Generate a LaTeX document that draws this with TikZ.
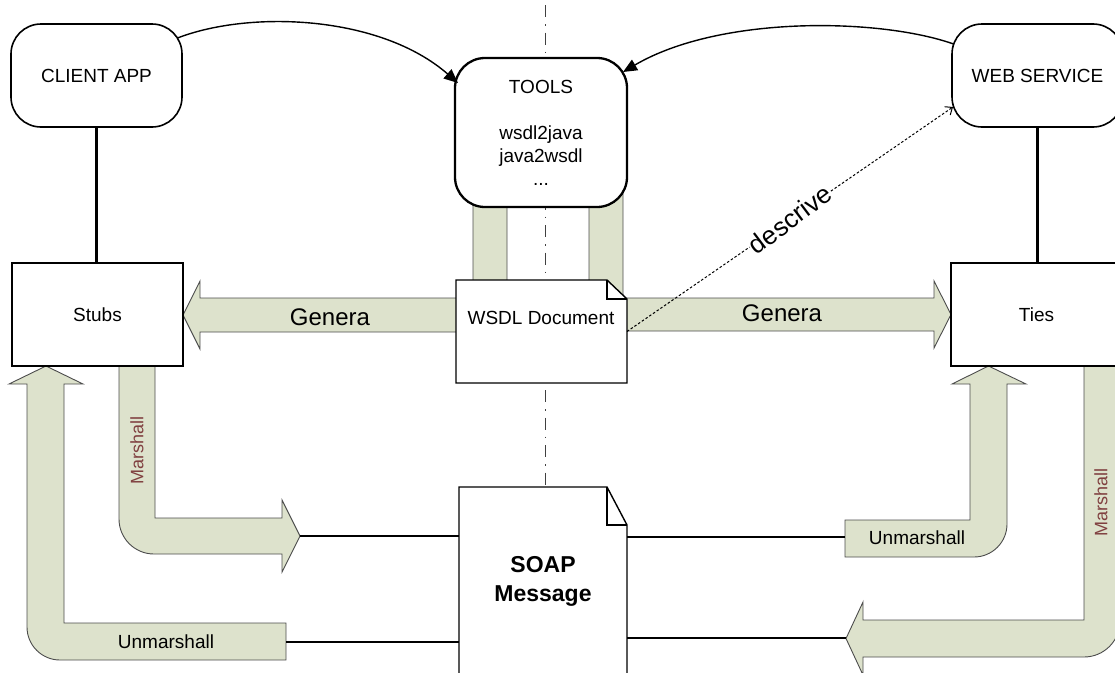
\documentclass[tikz,border=0pt]{standalone}
\usepackage{fontspec}
\setmainfont{Liberation Sans}
\usetikzlibrary{arrows.meta}
\definecolor{arrowfill}{RGB}{221,226,204}
\definecolor{marred}{RGB}{128,64,64}
\begin{document}
\begin{tikzpicture}[x=1pt,y=-1pt,
  base/.style={font=\fontsize{19}{23}\selectfont},
  rbox/.style={base, draw, fill=white, rounded corners=30pt, line width=1.6pt,
    minimum width=171pt, minimum height=103pt, inner sep=0pt, outer sep=0pt, align=center},
  tbox/.style={rbox, line width=2.3pt, minimum width=172pt, minimum height=149pt},
  sbox/.style={base, draw, fill=white, line width=1.4pt, minimum width=171pt,
    minimum height=103pt, inner sep=0pt, outer sep=0pt},
  docarea/.style={inner sep=0pt, outer sep=0pt},
  doc/.style={draw, fill=white, line width=1.4pt, line join=miter},
  fat/.style={fill=arrowfill, draw=black!70, line width=0.9pt, line join=miter},
  conn/.style={line width=2.1pt},
  curved/.style={line width=1.4pt, -{Triangle[length=14pt,width=12pt]}},
  dline/.style={line width=1pt, dash pattern=on 2.5pt off 2pt, -{Straight Barb[length=6pt,width=10pt]}},
  axisline/.style={draw=black!75, line width=1pt, dash pattern=on 12pt off 7pt on 1.5pt off 7pt},
  genlbl/.style={font=\fontsize{24}{28}\selectfont, inner sep=0pt},
  marlbl/.style={font=\fontsize{18}{22}\selectfont, text=marred, rotate=90, inner sep=0pt},
  unlbl/.style={base, inner sep=0pt},
]
\useasboundingbox (0,0) rectangle (1115,672);
\clip (0,0) rectangle (1115,672);

% dash-dot axis
\coordinate (axtop) at (545,5);
\coordinate (axbot) at (545,487);
\draw[axisline] (axtop) -- (axbot);

% Genera fat arrows (from TOOLS)
\draw[fat] (473,180) -- (473,298) -- (200,298) -- (200,281) -- (183,315) -- (200,349) -- (200,332) -- (507,332) -- (507,180) -- cycle;
\draw[fat] (623,180) -- (623,298) -- (934,298) -- (934,281) -- (951,314.5) -- (934,348) -- (934,331) -- (589,331) -- (589,180) -- cycle;

% Left: Marshall (Stubs -> SOAP)
\draw[fat] (119,366) -- (119,519) .. controls (119,538.3) and (134.7,554) .. (154,554) -- (282,554) -- (282,572) -- (300,536) -- (282,500) -- (282,518) -- (155,518) -- (155,366) -- cycle;
% Left: Unmarshall (SOAP -> Stubs)
\draw[fat] (286,623) -- (64,623) -- (64,384) -- (83,384) -- (46,366) -- (9,384) -- (27,384) -- (27,627) .. controls (27,645.2) and (41.8,660) .. (60,660) -- (286,660) -- cycle;
% Right: Unmarshall (SOAP -> Ties)
\draw[fat] (845,520) -- (970,520) -- (970,384) -- (952,384) -- (988.5,366) -- (1026,384) -- (1007,384) -- (1007,524) .. controls (1007,542.2) and (992.2,557) .. (974,557) -- (845,557) -- cycle;
% Right: Marshall (Ties -> SOAP)
\draw[fat] (1084,366) -- (1084,620) -- (863,620) -- (863,602) -- (846,638.5) -- (863,675) -- (863,657) -- (1084,657) .. controls (1103.9,657) and (1120,640.9) .. (1120,621) -- (1120,366) -- cycle;

% boxes
\node[rbox] (client) at (96.5,75.5) {CLIENT APP};
\node[rbox] (websvc) at (1037.5,75.5) {WEB SERVICE};
\node[tbox] (tools) at (541,132.5) {TOOLS\\[23pt]wsdl2java\\java2wsdl\\...};
\node[sbox] (stubs) at (97.5,314.5) {Stubs};
\node[sbox] (ties) at (1036.5,314.5) {Ties};

% WSDL document
\node[docarea, minimum width=171pt, minimum height=103pt] (wsdl) at (541.5,331.5) {};
\draw[doc] (wsdl.north west) -- ([xshift=-20pt]wsdl.north east) -- ([yshift=-19pt]wsdl.north east) -- (wsdl.south east) -- (wsdl.south west) -- cycle;
\draw[doc, fill=none] ([xshift=-20pt]wsdl.north east) -- ([xshift=-20pt,yshift=-19pt]wsdl.north east) -- ([yshift=-19pt]wsdl.north east);
\node[base, inner sep=0pt] (wsdltext) at (541,318) {WSDL Document};

% SOAP message document
\node[docarea, minimum width=168pt, minimum height=200pt] (soap) at (543,587) {};
\draw[doc] (soap.north west) -- ([xshift=-20pt]soap.north east) -- ([yshift=-38pt]soap.north east) -- (soap.south east) -- (soap.south west) -- cycle;
\draw[doc, fill=none] ([xshift=-20pt]soap.north east) -- ([xshift=-20pt,yshift=-38pt]soap.north east) -- ([yshift=-38pt]soap.north east);
\node[font=\bfseries\fontsize{23}{29}\selectfont, align=center, inner sep=0pt] (soaptext) at (543,581.5) {SOAP\\Message};

% vertical connectors
\draw[conn] (client.south) -- (client.south |- stubs.north);
\draw[conn] (websvc.south) -- (websvc.south |- ties.north);

% SOAP connectors
\coordinate (a1tip) at (300,536);
\coordinate (a2end) at (286,642);
\coordinate (a3end) at (845,537);
\coordinate (a4tip) at (846,638);
\draw[conn] (a1tip) -- (a1tip -| soap.west);
\draw[conn] (a2end) -- (a2end -| soap.west);
\draw[conn] (a3end) -- (a3end -| soap.east);
\draw[conn] (a4tip) -- (a4tip -| soap.east);

% curved arrows to TOOLS
\draw[curved] ([xshift=-4.5pt,yshift=-14pt]client.north east) .. controls (250,10) and (380,15) .. ([xshift=3pt,yshift=-25pt]tools.north west);
\draw[curved] ([xshift=1.5pt,yshift=-20pt]websvc.north west) .. controls (880,18) and (720,15) .. ([xshift=-4pt,yshift=-14pt]tools.north east);

% descrive
\draw[dline] (wsdl.east) -- node[rotate=37, fill=white, inner sep=0.5pt, font=\fontsize{26}{30}\selectfont] (desc) {descrive} ([xshift=1pt,yshift=20pt]websvc.south west);

% labels
\node[genlbl] (gen1) at (330,317) {Genera};
\node[genlbl] (gen2) at (782,313) {Genera};
\node[marlbl] (mar1) at (137,450) {Marshall};
\node[marlbl] (mar2) at (1101,502) {Marshall};
\node[unlbl] (unm1) at (166,642) {Unmarshall};
\node[unlbl] (unm2) at (917,538) {Unmarshall};
\end{tikzpicture}
\end{document}
